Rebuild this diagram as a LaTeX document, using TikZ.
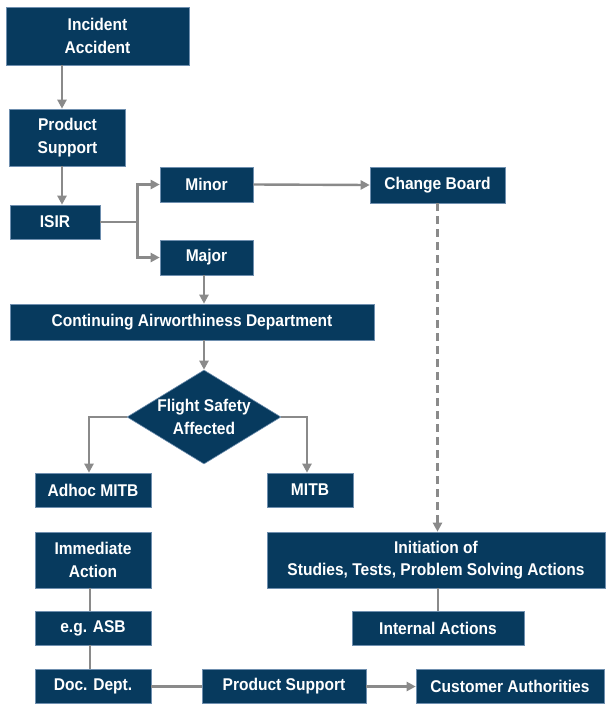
\documentclass[tikz,border=0pt]{standalone}
\usepackage{fontspec}
\setmainfont{Liberation Sans}[FakeStretch=0.915]
\usetikzlibrary{arrows.meta,shapes.geometric}
\definecolor{boxblue}{HTML}{073A5E}
\definecolor{boxedge}{HTML}{6F8FAF}
\definecolor{linegray}{HTML}{8A8A8A}

\begin{document}
\begin{tikzpicture}[x=1pt,y=-1pt,
  box/.style={rectangle,fill=boxblue,draw=boxedge,line width=.6pt,inner sep=0pt,
    text=white,align=center,font=\bfseries\fontsize{17}{22.5}\selectfont},
  decision/.style={box,diamond,shape aspect=1.638,inner sep=-3pt},
  link/.style={draw=linegray,line width=2.4pt},
  arr/.style={link,-{Triangle[length=9pt,width=9pt]}}]
  \useasboundingbox (0,0) rectangle (606,704);

  % Top chain
  \node[box,minimum width=183,minimum height=58] (inc) at (97.5,36) {Incident\\Accident};
  \node[box,minimum width=116,minimum height=57] (ps1) at (67.5,137.5) {Product\\Support};
  \node[box,minimum width=90,minimum height=34] (isir) at (55,222) {ISIR};
  \node[box,minimum width=93,minimum height=35] (minor) at (206.5,184.5) {Minor};
  \node[box,minimum width=93,minimum height=35] (major) at (206.5,257.5) {Major};
  \node[box,minimum width=135,minimum height=36] (cb) at (437.5,185) {Change Board};

  % Airworthiness and decision
  \node[box,minimum width=364,minimum height=36] (cad) at (192,322) {Continuing Airworthiness Department};
  \node[decision,minimum width=154,minimum height=94] (fsa) at (204,417) {Flight Safety\\Affected};
  \node[box,minimum width=116,minimum height=34] (adhoc) at (93,490) {Adhoc MITB};
  \node[box,minimum width=86,minimum height=34] (mitb) at (310,490) {MITB};

  % Actions
  \node[box,minimum width=116,minimum height=56] (imm) at (93,560) {Immediate\\Action};
  \node[box,minimum width=116,minimum height=34] (asb) at (93,628) {e.g. ASB};
  \node[box,minimum width=116,minimum height=34] (doc) at (93,686.5) {Doc. Dept.};
  \node[box,minimum width=164,minimum height=34] (ps2) at (284,686.5) {Product Support};
  \node[box,minimum width=188,minimum height=34] (ca) at (510,686.5) {Customer Authorities};
  \node[box,minimum width=338,minimum height=56] (init) at (436,560) {Initiation of\\Studies, Tests, Problem Solving Actions};
  \node[box,minimum width=172,minimum height=34] (ia) at (438,628) {Internal Actions};

  % Connectors
  \draw[arr] ([xshift=-35.5]inc.south) -- ([xshift=-5.5]ps1.north);
  \draw[arr] ([xshift=-5.5]ps1.south) -- ([xshift=7]isir.north);
  \draw[link] (isir.east) -- ++(37,0) coordinate (fork);
  \draw[arr] (fork) |- (minor.west);
  \draw[arr] (fork) |- (major.west);
  \draw[arr] (minor.east) -- (cb.west);
  \draw[arr] ([xshift=-2.5]major.south) -- ([xshift=-2.5]major.south |- cad.north);
  \draw[arr] (fsa.north |- cad.south) -- (fsa.north);
  \draw[arr] (fsa.west) -| ([xshift=-4]adhoc.north);
  \draw[arr] (fsa.east) -| ([xshift=-3]mitb.north);
  \draw[arr,dash pattern=on 8pt off 5pt] (cb.south) -- (cb.south |- init.north);
  \draw[link] (ia.north |- init.south) -- (ia.north);
  \draw[link] ([xshift=-3]imm.south) -- ([xshift=-3]asb.north);
  \draw[link] ([xshift=-3]asb.south) -- ([xshift=-3]doc.north);
  \draw[link] (doc.east) -- (ps2.west);
  \draw[arr] (ps2.east) -- (ca.west);
\end{tikzpicture}
\end{document}
